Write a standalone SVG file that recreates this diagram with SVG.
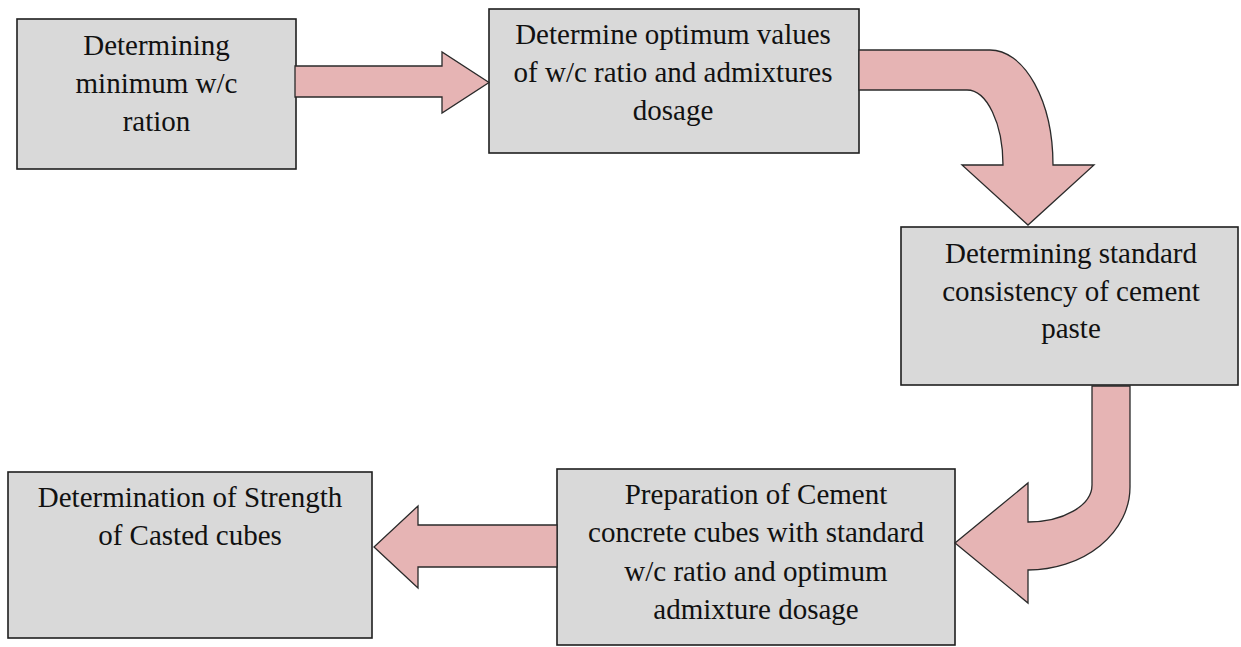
<svg xmlns="http://www.w3.org/2000/svg" width="1241" height="647" viewBox="0 0 1241 647">
<style>
.box{fill:#d9d9d9;stroke:#1f1f1f;stroke-width:1.6}
.arr{fill:#e6b4b4;stroke:#2a2a2a;stroke-width:1.3;stroke-linejoin:miter}
.t{font-family:"Liberation Serif","Times New Roman",serif;font-size:29px;fill:#111;text-anchor:middle}
</style>
<rect width="1241" height="647" fill="#ffffff"/>
<g id="node1">
<rect class="box" x="17" y="19" width="279" height="150"/>
<text class="t" x="156.5" y="55">Determining</text>
<text class="t" x="156.5" y="93">minimum w/c</text>
<text class="t" x="156.5" y="131">ration</text>
</g>
<g id="node2">
<rect class="box" x="489" y="9" width="370" height="144"/>
<text class="t" x="673" y="44">Determine optimum values</text>
<text class="t" x="673" y="82">of w/c ratio and admixtures</text>
<text class="t" x="673" y="120">dosage</text>
</g>
<g id="node3">
<rect class="box" x="901" y="227" width="337" height="158"/>
<text class="t" x="1071" y="263">Determining standard</text>
<text class="t" x="1071" y="300.5">consistency of cement</text>
<text class="t" x="1071" y="338">paste</text>
</g>
<g id="node4">
<rect class="box" x="557" y="469" width="398" height="176"/>
<text class="t" x="756" y="504">Preparation of Cement</text>
<text class="t" x="756" y="542">concrete cubes with standard</text>
<text class="t" x="756" y="581">w/c ratio and optimum</text>
<text class="t" x="756" y="619">admixture dosage</text>
</g>
<g id="node5">
<rect class="box" x="8" y="472" width="364" height="166"/>
<text class="t" x="190" y="507">Determination of Strength</text>
<text class="t" x="190" y="545">of Casted cubes</text>
</g>
<g id="connectors">
<path class="arr" d="M295 66 H442 V52 L489 82.5 L442 113 V97 H295 Z"/>
<path class="arr" d="M859 50 H990 A63 115 0 0 1 1053 165 H1094 L1028 225 L962 165 H1003 A36 75 0 0 0 967 90 H859 Z"/>
<path class="arr" d="M1092 386 H1130 V487 A102 83 0 0 1 1028 570 V603 L955 543 L1028 483 V522 A64 37 0 0 0 1092 485 Z"/>
<path class="arr" d="M557 525 H418 V506 L374 547 L418 588 V567 H557 Z"/>
</g>
</svg>
